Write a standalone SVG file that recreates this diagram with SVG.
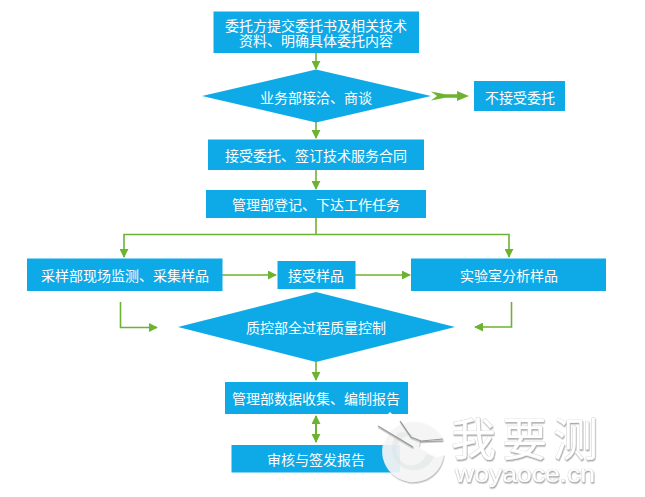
<svg xmlns="http://www.w3.org/2000/svg" width="645" height="497" viewBox="0 0 645 497">
<style>
.box{fill:#0eaae7}
.lbl{font-family:"Noto Sans CJK SC","Noto Sans",sans-serif;font-size:14px;fill:#fff;text-anchor:middle;dominant-baseline:central}
.wire{fill:none;stroke:#6db332;stroke-width:1.6}
.mark{fill:#fff;stroke:#cfcfcf;stroke-width:.7;paint-order:stroke}
</style>
<defs>
<marker id="head" viewBox="0 0 10 10" refX="9" refY="5" markerUnits="userSpaceOnUse" markerWidth="9" markerHeight="9" orient="auto-start-reverse">
<path d="M0,0L10,5L0,10Z" fill="#6db332"/>
</marker>
<filter id="lift" x="-10%" y="-10%" width="120%" height="125%">
<feDropShadow dx=".6" dy="1.4" stdDeviation=".7" flood-color="#8a8a8a" flood-opacity=".75"/>
</filter>
</defs>
<rect width="645" height="497" fill="#fff"/>

<g id="connectors">
<path class="wire" marker-end="url(#head)" d="M316,53V69"/>
<path class="wire" marker-end="url(#head)" d="M316,122V138"/>
<path class="wire" marker-end="url(#head)" d="M316,170V189"/>
<path d="M431,91.500L445,94.300H457V91L469,96L457,101V97.700H445L431,100.500L437,96Z" fill="#6db332"/>
<path class="wire" d="M316,218V234.500"/>
<path class="wire" marker-end="url(#head)" d="M316,234.500H124V257"/>
<path class="wire" marker-end="url(#head)" d="M316,234.500H509V257"/>
<path class="wire" marker-end="url(#head)" d="M222,275H276"/>
<path class="wire" marker-end="url(#head)" d="M355,275H410"/>
<path class="wire" marker-end="url(#head)" d="M120.500,302V327.500H157"/>
<path class="wire" marker-end="url(#head)" d="M511.500,302V327H475"/>
<path class="wire" marker-end="url(#head)" d="M316,362V380"/>
<path class="wire" style="stroke-width:2" marker-start="url(#head)" marker-end="url(#head)" d="M316,416V442"/>
</g>

<g id="n-submit"><rect class="box" x="213.500" y="11.500" width="205.500" height="41.500"/>
<text class="lbl" x="316" y="24.500">委托方提交委托书及相关技术</text>
<text class="lbl" x="316" y="40">资料、明确具体委托内容</text></g>
<g id="n-negotiate"><path class="box" d="M202,96L316,69.500L431,96L316,122.500Z"/>
<text class="lbl" x="316" y="96.500">业务部接洽、商谈</text></g>
<g id="n-decline"><rect class="box" x="474" y="81" width="91" height="30"/>
<text class="lbl" x="520" y="96.500">不接受委托</text></g>
<g id="n-contract"><rect class="box" x="208" y="139.500" width="216" height="30.500"/>
<text class="lbl" x="316" y="155">接受委托、签订技术服务合同</text></g>
<g id="n-register"><rect class="box" x="206" y="190" width="220" height="28"/>
<text class="lbl" x="316" y="204">管理部登记、下达工作任务</text></g>
<g id="n-sampling"><rect class="box" x="27" y="258.500" width="195.500" height="32.500"/>
<text class="lbl" x="125" y="275">采样部现场监测、采集样品</text></g>
<g id="n-receive"><rect class="box" x="277.500" y="261" width="78" height="28"/>
<text class="lbl" x="316" y="275">接受样品</text></g>
<g id="n-lab"><rect class="box" x="411" y="258.500" width="195" height="32.500"/>
<text class="lbl" x="509" y="275">实验室分析样品</text></g>
<g id="n-quality"><path class="box" d="M178,327L316,292L455,327L316,362Z"/>
<text class="lbl" x="316" y="327">质控部全过程质量控制</text></g>
<g id="n-report"><rect class="box" x="225" y="382" width="183" height="32"/>
<text class="lbl" x="316" y="398">管理部数据收集、编制报告</text></g>
<g id="n-approve"><rect class="box" x="231.500" y="445" width="168.500" height="27.500"/>
<text class="lbl" x="316" y="459">审核与签发报告</text></g>

<!-- brand mark in the lower right corner: crescent disc, needle lines, wordmark -->
<g id="brand">
<path d="M420,421A31,31 0 1 0 444,454L436,456L419,447L420,441L443,441A31,31 0 0 0 420,421Z" fill="#fff" fill-opacity=".8" filter="url(#lift)"/>
<path d="M398,433A22,22 0 1 0 434,457L426,454A15,15 0 1 1 418,437L412,434A22,22 0 0 0 398,433Z" fill="#dfe3e6" fill-opacity=".55"/>
<path d="M390,412L400,422L377,425Z" fill="#fff"/>
<g fill="none" stroke="#9a9a9a" stroke-width="1.200" filter="url(#lift)">
<path d="M378,426L413,447"/>
<path d="M400,421L411,437L421,441L443,439"/>
</g>
<g class="mark" filter="url(#lift)">
<text x="451" y="456" font-size="45" letter-spacing="6" style="font-family:'Noto Sans CJK SC',sans-serif">我要测</text>
<text x="455" y="482" font-size="24" style="font-family:'Liberation Sans',sans-serif" textLength="140" lengthAdjust="spacingAndGlyphs">woyaoce.cn</text>
</g>
</g>
</svg>
